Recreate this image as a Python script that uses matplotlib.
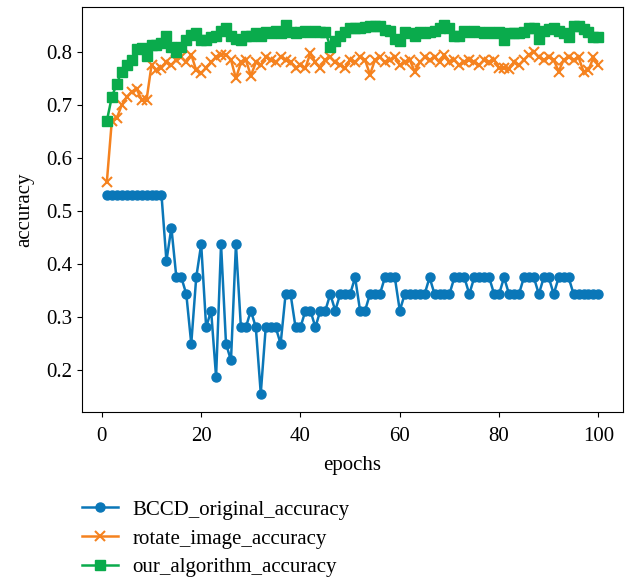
import numpy as np
import matplotlib
matplotlib.use('Agg')
import matplotlib.pyplot as plt

epochs = list(range(1, 101))

bccd_original = [
    0.53125, 0.53125, 0.53125, 0.53125, 0.53125, 0.53125, 0.53125, 0.53125, 0.53125, 0.53125,
    0.53125, 0.53125, 0.40625, 0.46875, 0.375, 0.375, 0.34375, 0.25, 0.375, 0.4375,
    0.28125, 0.3125, 0.1875, 0.4375, 0.25, 0.21875, 0.4375, 0.28125, 0.28125, 0.3125,
    0.28125, 0.15625, 0.28125, 0.28125, 0.28125, 0.25, 0.34375, 0.34375, 0.28125, 0.28125,
    0.3125, 0.3125, 0.28125, 0.3125, 0.3125, 0.34375, 0.3125, 0.34375, 0.34375, 0.34375,
    0.375, 0.3125, 0.3125, 0.34375, 0.34375, 0.34375, 0.375, 0.375, 0.375, 0.3125,
    0.34375, 0.34375, 0.34375, 0.34375, 0.34375, 0.375, 0.34375, 0.34375, 0.34375, 0.34375,
    0.375, 0.375, 0.375, 0.34375, 0.375, 0.375, 0.375, 0.375, 0.34375, 0.34375,
    0.375, 0.34375, 0.34375, 0.34375, 0.375, 0.375, 0.375, 0.34375, 0.375, 0.375,
    0.34375, 0.375, 0.375, 0.375, 0.34375, 0.34375, 0.34375, 0.34375, 0.34375, 0.34375,
]

rotate_image = [
    0.555, 0.670, 0.675, 0.700, 0.715, 0.725, 0.730, 0.710, 0.710, 0.775,
    0.765, 0.770, 0.780, 0.775, 0.785, 0.790, 0.780, 0.795, 0.765, 0.760,
    0.770, 0.780, 0.790, 0.795, 0.795, 0.785, 0.750, 0.780, 0.785, 0.755,
    0.780, 0.775, 0.790, 0.785, 0.780, 0.790, 0.785, 0.780, 0.770, 0.775,
    0.770, 0.798, 0.780, 0.770, 0.785, 0.790, 0.780, 0.775, 0.770, 0.785,
    0.780, 0.790, 0.785, 0.757, 0.785, 0.790, 0.780, 0.785, 0.790, 0.775,
    0.780, 0.785, 0.763, 0.780, 0.790, 0.785, 0.790, 0.780, 0.795, 0.780,
    0.785, 0.775, 0.780, 0.785, 0.780, 0.775, 0.785, 0.780, 0.785, 0.770,
    0.770, 0.768, 0.780, 0.775, 0.785, 0.795, 0.800, 0.790, 0.785, 0.790,
    0.785, 0.763, 0.785, 0.790, 0.785, 0.790, 0.763, 0.765, 0.790, 0.775,
]

our_algorithm = [
    0.670, 0.715, 0.740, 0.763, 0.775, 0.785, 0.805, 0.808, 0.792, 0.813,
    0.813, 0.816, 0.830, 0.810, 0.800, 0.810, 0.822, 0.832, 0.835, 0.823,
    0.823, 0.828, 0.830, 0.840, 0.845, 0.830, 0.825, 0.823, 0.830, 0.830,
    0.835, 0.830, 0.838, 0.835, 0.840, 0.835, 0.850, 0.838, 0.836, 0.838,
    0.840, 0.838, 0.840, 0.838, 0.838, 0.810, 0.820, 0.830, 0.838, 0.845,
    0.845, 0.845, 0.846, 0.848, 0.848, 0.848, 0.842, 0.840, 0.825, 0.820,
    0.838, 0.835, 0.830, 0.838, 0.835, 0.838, 0.840, 0.845, 0.850, 0.845,
    0.830, 0.830, 0.840, 0.838, 0.840, 0.838, 0.835, 0.838, 0.835, 0.838,
    0.823, 0.836, 0.835, 0.835, 0.838, 0.845, 0.845, 0.825, 0.840, 0.843,
    0.845, 0.840, 0.835, 0.828, 0.848, 0.848, 0.843, 0.838, 0.828, 0.828,
]

plt.rcParams['font.family'] = ['Liberation Serif', 'DejaVu Serif']
fs = 15

fig = plt.figure(figsize=(6.28, 5.77), dpi=100)
ax = fig.add_axes([0.131, 0.286, 0.861, 0.702])

ax.plot(epochs, bccd_original, color='#0a77b8', marker='o', markersize=6.5,
        linewidth=1.8, label='BCCD_original_accuracy')
ax.plot(epochs, rotate_image, color='#f5821f', marker='x', markersize=6.5,
        markeredgewidth=1.5, linewidth=1.8, label='rotate_image_accuracy')
ax.plot(epochs, our_algorithm, color='#0aab4c', marker='s', markersize=6.5,
        linewidth=1.8, label='our_algorithm_accuracy')

ax.set_xlabel('epochs', fontsize=fs, labelpad=7)
ax.set_ylabel('accuracy', fontsize=fs, labelpad=9)
ax.set_xticks([0, 20, 40, 60, 80, 100])
ax.set_yticks([0.2, 0.3, 0.4, 0.5, 0.6, 0.7, 0.8])
ax.tick_params(labelsize=fs)
ax.tick_params(axis='x', pad=7.5)

fig.legend(loc='upper left', bbox_to_anchor=(0.1, 0.166), frameon=False,
           fontsize=fs, handlelength=1.75, handletextpad=0.7, labelspacing=0.45)

fig.savefig('out.png', dpi=100)
